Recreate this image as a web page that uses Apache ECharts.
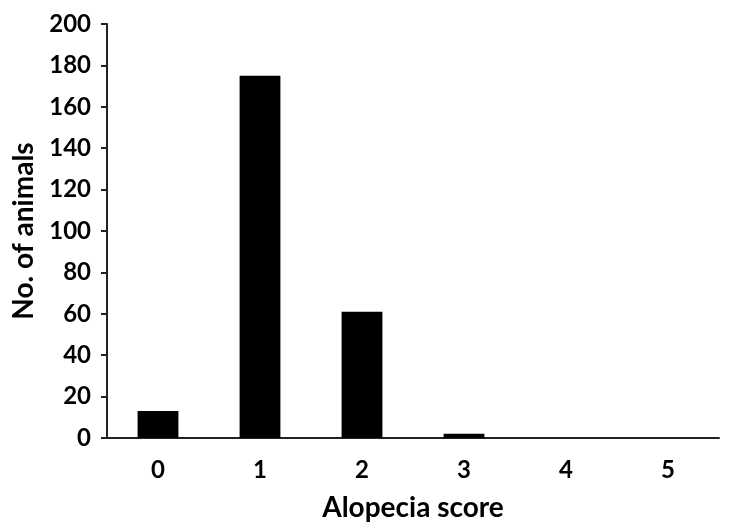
<!DOCTYPE html>
<html>
<head>
<meta charset="utf-8">
<script src="https://cdn.jsdelivr.net/npm/echarts@6/dist/echarts.min.js"></script>
<style>
  html, body { margin: 0; padding: 0; background: #fff; }
  #chart { width: 736px; height: 528px; }
</style>
</head>
<body>
<div id="chart"></div>
<script>
var scores = ['0', '1', '2', '3', '4', '5'];
var animals = [13, 175, 61, 2, 0, 0];

var chart = echarts.init(document.getElementById('chart'));
var font = 'Lato, "Open Sans", sans-serif';

var option = {
    animation: false,
    grid: { left: 107, right: 17, top: 24, bottom: 90, containLabel: false, outerBoundsMode: 'none' },
    xAxis: {
        type: 'category',
        data: scores,
        name: 'Alopecia score',
        nameLocation: 'middle',
        nameGap: 56,
        nameTextStyle: { fontFamily: font, fontWeight: 'bold', fontSize: 28, color: '#000' },
        axisLine: { lineStyle: { color: '#222', width: 2 } },
        axisTick: { length: 7, lineStyle: { color: '#222', width: 2 } },
        axisLabel: { fontFamily: font, fontWeight: 'bold', fontSize: 24, color: '#000', margin: 20 }
    },
    yAxis: {
        type: 'value',
        min: 0,
        max: 200,
        interval: 20,
        name: 'No. of animals',
        nameLocation: 'middle',
        nameGap: 69,
        nameTextStyle: { fontFamily: font, fontWeight: 'bold', fontSize: 28, color: '#000' },
        axisLine: { show: true, lineStyle: { color: '#222', width: 2 } },
        axisTick: { show: true, length: 6, lineStyle: { color: '#222', width: 2 } },
        axisLabel: { fontFamily: font, fontWeight: 'bold', fontSize: 24, color: '#000', margin: 16 },
        splitLine: { show: false }
    },
    series: [{
        type: 'bar',
        data: animals,
        barWidth: '40%',
        itemStyle: { color: '#000' }
    }]
};
chart.setOption(option);
</script>
</body>
</html>
